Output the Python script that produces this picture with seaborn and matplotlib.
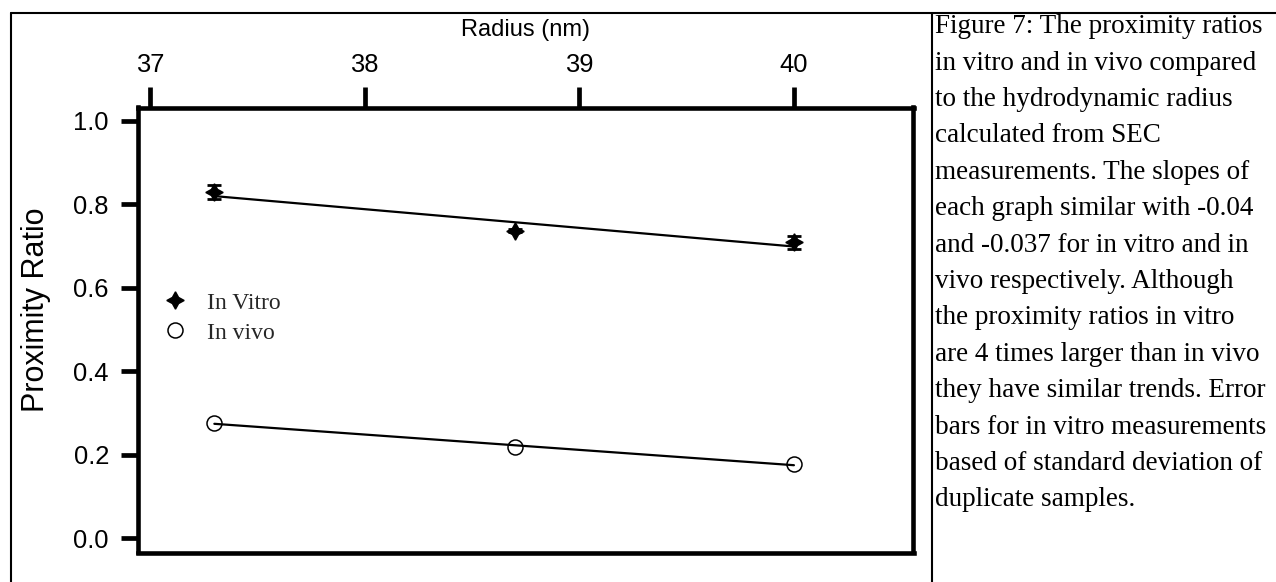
import numpy as np
import matplotlib.pyplot as plt
import seaborn as sns
from matplotlib.lines import Line2D
from matplotlib.ticker import FormatStrFormatter

# values
radius = [37.3, 38.7, 40.0]
in_vitro = [0.829, 0.737, 0.709]
in_vitro_sd = [0.016, 0.004, 0.016]
in_vivo = [0.276, 0.219, 0.177]

x_ticks = [37, 38, 39, 40]
y_ticks = [0.0, 0.2, 0.4, 0.6, 0.8, 1.0]

caption = [
    "Figure 7: The proximity ratios",
    "in vitro and in vivo compared",
    "to the hydrodynamic radius",
    "calculated from SEC",
    "measurements. The slopes of",
    "each graph similar with -0.04",
    "and -0.037 for in vitro and in",
    "vivo respectively. Although",
    "the proximity ratios in vitro",
    "are 4 times larger than in vivo",
    "they have similar trends. Error",
    "bars for in vitro measurements",
    "based of standard deviation of",
    "duplicate samples.",
]

sns.set_theme(style="white")
plt.rcParams["font.family"] = ["Liberation Sans", "DejaVu Sans"]

W, H = 1276, 582
fig = plt.figure(figsize=(W / 100, H / 100), dpi=100)
ax = fig.add_axes([137.5 / W, 1 - 552.5 / H, 776 / W, 445 / H])

star = (4, 1, 0)

# fitted lines
sns.regplot(x=radius, y=in_vitro, ci=None, scatter=False, truncate=True,
            line_kws=dict(color="black", lw=1.6), ax=ax)
sns.regplot(x=radius, y=in_vivo, ci=None, scatter=False, truncate=True,
            line_kws=dict(color="black", lw=1.6), ax=ax)

ax.errorbar(radius, in_vitro, yerr=in_vitro_sd, fmt="none", ecolor="black",
            elinewidth=1.5, capsize=5, capthick=2, zorder=3)
ax.plot(radius, in_vitro, ls="none", marker=star, ms=12.5, color="black", zorder=4)
ax.plot(radius, in_vivo, ls="none", marker="o", ms=10.8, mfc="none",
        mec="black", mew=1.1, zorder=4)

ax.set_xlim(36.942, 40.557)
ax.set_ylim(-0.034, 1.0316)
ax.set_xticks(x_ticks)
ax.set_yticks(y_ticks)
ax.yaxis.set_major_formatter(FormatStrFormatter("%.1f"))

ax.xaxis.tick_top()
ax.xaxis.set_label_position("top")
ax.tick_params(axis="x", direction="out", length=14.8, width=3.4, pad=7,
               labelsize=18.4, colors="black", top=True, bottom=False)
ax.tick_params(axis="y", direction="out", length=12.6, width=3.4, pad=8,
               labelsize=18.4, colors="black", left=True)
for sp in ax.spines.values():
    sp.set_visible(True)
    sp.set_color("black")
    sp.set_linewidth(3.3)

ax.set_xlabel("Radius (nm)", fontsize=17, color="black")
ax.xaxis.set_label_coords(0.5, 1.16)
ax.set_ylabel("Proximity Ratio", fontsize=22, color="black")
ax.yaxis.set_label_coords(-0.111, 0.545)

handles = [
    Line2D([], [], ls="none", marker=star, ms=12.5, color="black"),
    Line2D([], [], ls="none", marker="o", ms=10.8, mfc="none", mec="black", mew=1.1),
]
ax.legend(handles, ["In Vitro", "In vivo"], loc="center left",
          bbox_to_anchor=(0.0331, 0.527), frameon=False, borderpad=0,
          borderaxespad=0, handlelength=1, handletextpad=0.86,
          labelspacing=0.36, prop={"family": "Liberation Serif", "size": 17})

# caption panel
for i, line in enumerate(caption):
    fig.text(935 / W, 1 - (33.3 + 36.4 * i) / H, line, va="baseline", ha="left",
             fontsize=19.5, family="Liberation Serif", color="black")

# outer frame lines
frame = dict(color="black", lw=1.5, transform=fig.transFigure)
fig.add_artist(Line2D([11 / W, 1], [1 - 12.7 / H, 1 - 12.7 / H], **frame))
fig.add_artist(Line2D([11 / W, 11 / W], [0, 1 - 12.7 / H], **frame))
fig.add_artist(Line2D([931.7 / W, 931.7 / W], [0, 1 - 12.7 / H], **frame))

fig.savefig("out.png", dpi=100, facecolor="white")
